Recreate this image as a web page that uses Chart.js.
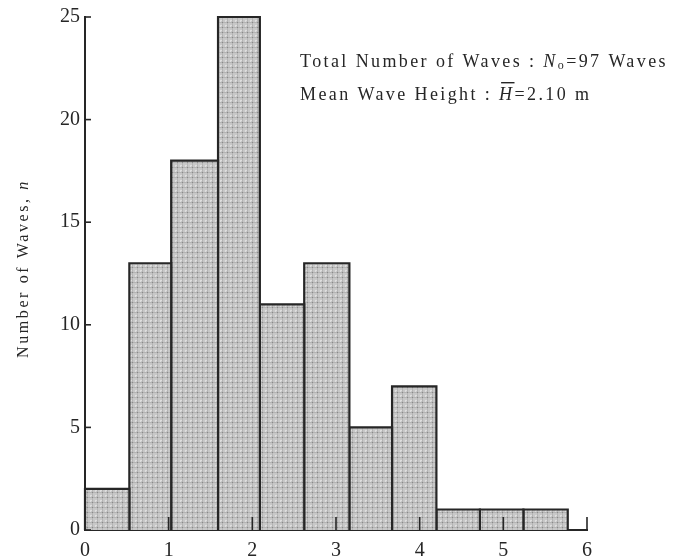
<!DOCTYPE html>
<html>
<head>
  <title>Wave height histogram</title>
  <script src="https://cdn.jsdelivr.net/npm/chart.js"></script>
  <style>
    body { margin: 0; background: #ffffff; }
    #box { width: 678px; height: 558px; }
  </style>
</head>
<body>
  <div id="box"><canvas id="myChart" width="678" height="558"></canvas></div>
  <script>
    // bin edges (wave height, m) and counts
    var binEdges = [0, 0.53, 1.03, 1.59, 2.09, 2.62, 3.16, 3.67, 4.20, 4.72, 5.24, 5.77];
    var waveCounts = [2, 13, 18, 25, 11, 13, 5, 7, 1, 1, 1];
    var xTicks = [0, 1, 2, 3, 4, 5, 6];
    var yTicks = [0, 5, 10, 15, 20, 25];
    var yTitle = ['Number of Waves, ', 'n'];

    var serif = '"Liberation Serif", "DejaVu Serif", serif';
    var ink = '#262626';

    // halftone-like fill of the printed bars
    function makePattern() {
      var c = document.createElement('canvas');
      c.width = 5; c.height = 5;
      var g = c.getContext('2d');
      g.fillStyle = '#c8c8c8';
      g.fillRect(0, 0, 5, 5);
      g.fillStyle = '#b4b4b4';
      g.fillRect(0, 2, 5, 1);
      g.fillRect(2, 0, 1, 5);
      g.fillStyle = '#8a8a8a';
      g.fillRect(2, 2, 1, 1);
      g.fillStyle = '#dedede';
      g.fillRect(0, 0, 2, 1);
      g.fillRect(0, 0, 1, 2);
      return g.createPattern(c, 'repeat');
    }

    var ctx = document.getElementById('myChart').getContext('2d');
    var pattern = makePattern();

    var datasets = [];
    for (var i = 0; i < waveCounts.length; i++) {
      var a = binEdges[i], b = binEdges[i + 1], n = waveCounts[i];
      datasets.push({
        data: [{x: a, y: 0}, {x: a, y: n}, {x: b, y: n}, {x: b, y: 0}],
        fill: 'origin',
        backgroundColor: pattern,
        borderColor: ink,
        borderWidth: 2.2,
        pointRadius: 0,
        tension: 0,
        clip: 6
      });
    }

    // draws a run of text pieces, each with own font
    function drawPieces(c, pieces, x, y) {
      for (var k = 0; k < pieces.length; k++) {
        var p = pieces[k];
        c.font = p.font;
        var yy = y + (p.dy || 0);
        c.fillText(p.t, x, yy);
        var w = c.measureText(p.t).width;
        if (p.bar) {
          c.fillRect(x + 2, yy - 18, w - 2, 1.4);
        }
        x += w;
      }
    }

    var extras = {
      id: 'extras',
      afterDraw: function(chart) {
        var c = chart.ctx;
        var xs = chart.scales.x, ys = chart.scales.y;
        var area = chart.chartArea;
        c.save();
        c.strokeStyle = ink;
        c.lineWidth = 1.6;
        // inward ticks
        xTicks.forEach(function(v) {
          if (v === 0) return;
          var px = xs.getPixelForValue(v);
          c.beginPath();
          c.moveTo(px, area.bottom);
          c.lineTo(px, area.bottom - 13);
          c.stroke();
        });
        yTicks.forEach(function(v) {
          var py = ys.getPixelForValue(v);
          c.beginPath();
          c.moveTo(area.left, py);
          c.lineTo(area.left + 6, py);
          c.stroke();
        });

        c.fillStyle = ink;
        c.textBaseline = 'alphabetic';
        c.textAlign = 'left';
        c.letterSpacing = '2.4px';
        var reg = '18px ' + serif;
        var ital = 'italic 18px ' + serif;
        drawPieces(c, [
          {t: 'Total Number of Waves : ', font: reg},
          {t: 'N', font: ital},
          {t: 'o', font: '12px ' + serif, dy: 2},
          {t: '=97 Waves', font: reg}
        ], 300, 67);
        drawPieces(c, [
          {t: 'Mean Wave Height : ', font: reg},
          {t: 'H', font: ital, bar: true},
          {t: '=2.10 m', font: reg}
        ], 300, 100);

        // y axis title, rotated
        c.translate(28, 358);
        c.rotate(-Math.PI / 2);
        c.letterSpacing = '2.6px';
        drawPieces(c, [
          {t: yTitle[0], font: '16px ' + serif},
          {t: yTitle[1], font: 'italic 16px ' + serif}
        ], 0, 0);
        c.restore();
      }
    };

    new Chart(ctx, {
      type: 'line',
      data: { datasets: datasets },
      options: {
        responsive: false,
        animation: false,
        events: [],
        layout: { padding: { top: 15, right: 91, left: 0, bottom: 0 } },
        plugins: { legend: { display: false }, tooltip: { enabled: false } },
        scales: {
          x: {
            type: 'linear',
            min: 0,
            max: 6,
            afterFit: function(s) { s.height = 28; },
            afterBuildTicks: function(s) { s.ticks = xTicks.map(function(v) { return {value: v}; }); },
            grid: { display: false, drawTicks: false },
            border: { display: true, color: ink, width: 2 },
            ticks: { color: ink, padding: 9, font: { family: serif, size: 20 } }
          },
          y: {
            min: 0,
            max: 25,
            afterFit: function(s) { s.width = 85; },
            afterBuildTicks: function(s) { s.ticks = yTicks.map(function(v) { return {value: v}; }); },
            grid: { display: false, drawTicks: false },
            border: { display: true, color: ink, width: 2 },
            ticks: { color: ink, padding: 5, font: { family: serif, size: 20 } }
          }
        }
      },
      plugins: [extras]
    });
  </script>
</body>
</html>
